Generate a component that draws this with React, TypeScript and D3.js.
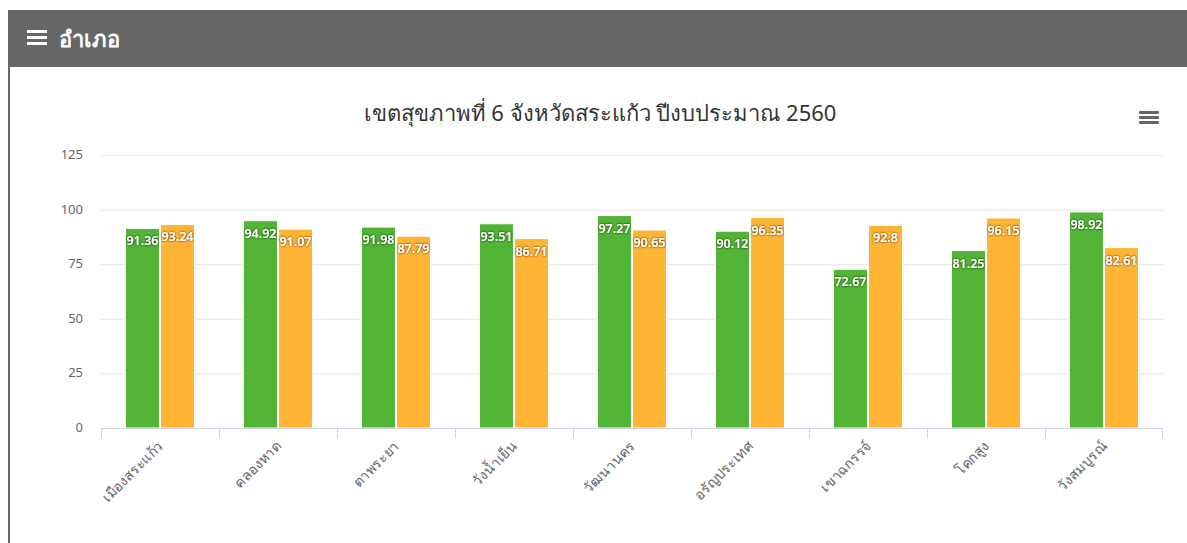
import React from 'react';
import * as d3 from 'd3';

const categories = ['เมืองสระแก้ว', 'คลองหาด', 'ตาพระยา', 'วังน้ำเย็น', 'วัฒนานคร', 'อรัญประเทศ', 'เขาฉกรรจ์', 'โคกสูง', 'วังสมบูรณ์'];
const seriesNames = ['s1', 's2'];
const greenValues = [91.36, 94.92, 91.98, 93.51, 97.27, 90.12, 72.67, 81.25, 98.92];
const orangeValues = [93.24, 91.07, 87.79, 86.71, 90.65, 96.35, 92.8, 96.15, 82.61];
const yTicks = [0, 25, 50, 75, 100, 125];
const colors = ['#51b434', '#ffb433'];

const W = 1187;
const H = 543;
const FONT = "Tahoma, 'Noto Sans', 'DejaVu Sans', sans-serif";

const App: React.FC = () => {
  const x = d3.scaleBand<string>().domain(categories).range([101, 1163]).padding(0);
  const x1 = d3.scaleBand<string>().domain(seriesNames).range([0, x.bandwidth()])
    .paddingInner(0.03).paddingOuter(0.7);
  const y = d3.scaleLinear().domain([0, 125]).range([428, 155]);
  const values = [greenValues, orangeValues];

  return (
    <svg width={W} height={H} style={{ position: 'absolute', left: 0, top: 0 }}>
      <defs>
        <filter id="glow" x="-20%" y="-40%" width="140%" height="180%">
          <feDropShadow dx="0" dy="0" stdDeviation="1.2" floodColor="#000" floodOpacity="0.9" />
        </filter>
      </defs>
      <rect width={W} height={H} fill="#fff" />
      {/* header */}
      <rect x={8} y={10} width={W - 8} height={57} fill="#666666" />
      <rect x={8} y={67} width={2} height={H - 67} fill="#666666" />
      {[0, 6, 12].map(d => (
        <rect key={d} x={27} y={30 + d} width={20} height={3} fill="#fff" />
      ))}
      <text x={59} y={47} fill="#fff" fontSize={22} fontWeight={600} fontFamily={FONT}>อำเภอ</text>

      {/* title */}
      <text x={600} y={121} textAnchor="middle" fill="#333" fontSize={22} fontFamily={FONT}>
        เขตสุขภาพที่ 6 จังหวัดสระแก้ว ปีงบประมาณ 2560
      </text>
      {[0, 5, 10].map(d => (
        <rect key={d} x={1139} y={111 + d} width={20} height={3} rx={1} fill="#666" />
      ))}

      {/* grid + y axis */}
      {yTicks.map(t => (
        <g key={t}>
          {t > 0 && <line x1={101} x2={1163} y1={y(t) + 0.5} y2={y(t) + 0.5} stroke="#e6e6e6" />}
          <text x={83} y={y(t) + 4} textAnchor="end" fill="#666" fontSize={13} fontFamily={FONT}>{t}</text>
        </g>
      ))}

      {/* bars */}
      {categories.map((c, i) => (
        <g key={c} transform={`translate(${x(c)},0)`}>
          {seriesNames.map((s, j) => {
            const v = values[j][i];
            const bx = x1(s) || 0;
            return (
              <g key={s}>
                <rect x={bx} y={y(v)} width={x1.bandwidth()} height={y(0) - y(v)}
                  fill={colors[j]} stroke="#fff" strokeWidth={1} />
                <text x={bx + x1.bandwidth() / 2} y={y(v) + 17} textAnchor="middle" fill="#fff"
                  fontSize={12.5} fontWeight={600} fontFamily={FONT} filter="url(#glow)">{v}</text>
              </g>
            );
          })}
        </g>
      ))}

      {/* x axis */}
      <line x1={101} x2={1163} y1={428.5} y2={428.5} stroke="#ccd6eb" />
      {categories.map(c => (
        <line key={c} x1={(x(c) || 0) + 0.5} x2={(x(c) || 0) + 0.5} y1={428} y2={438} stroke="#ccd6eb" />
      ))}
      <line x1={1162.5} x2={1162.5} y1={428} y2={438} stroke="#ccd6eb" />
      {categories.map(c => {
        const cx = (x(c) || 0) + x.bandwidth() / 2 + 4;
        return (
          <text key={c} transform={`translate(${cx},447) rotate(-45)`} textAnchor="end"
            fill="#666" fontSize={14} fontFamily={FONT}>{c}</text>
        );
      })}
    </svg>
  );
};

export default App;
